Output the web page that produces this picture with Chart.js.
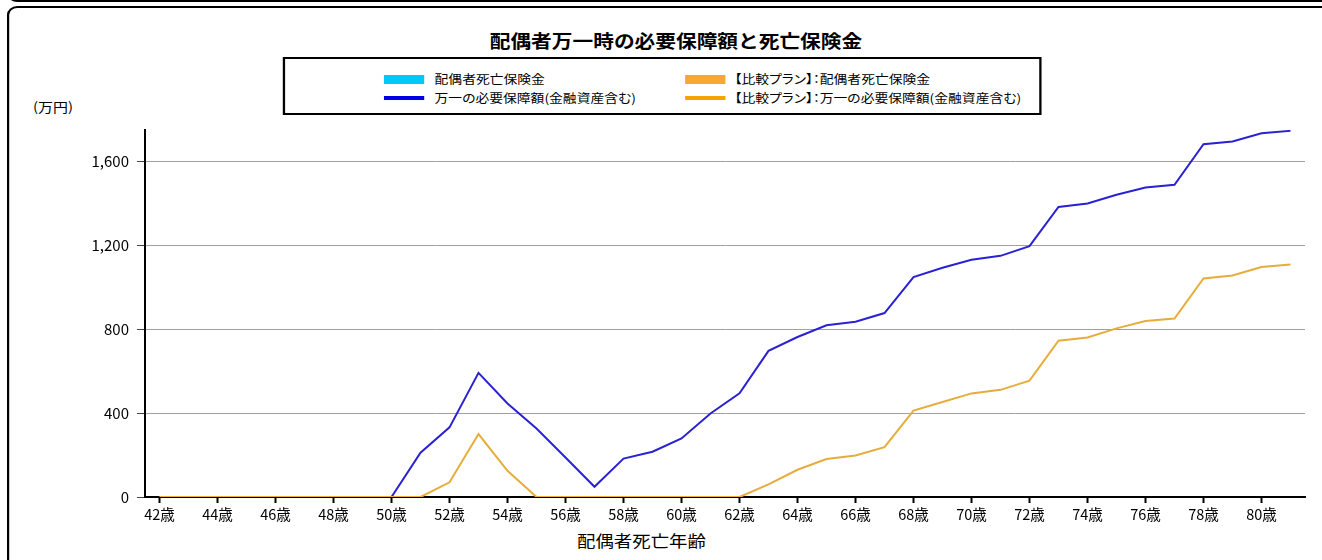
<!DOCTYPE html>
<html><head><meta charset="utf-8">
<script src="https://cdn.jsdelivr.net/npm/chart.js@4.4.1/dist/chart.umd.min.js"></script>
<style>
html,body{margin:0;padding:0;background:#fff;overflow:hidden;width:1322px;height:560px;}
#wrap{position:absolute;left:0;top:0;width:1150px;height:560px;overflow:hidden;transform:scaleX(1.1496);transform-origin:0 0;font-family:"Noto Sans CJK JP","Noto Sans",sans-serif;color:#000;}
.ftop{position:absolute;left:6px;top:-38px;width:1400px;height:40px;border-left:2.4px solid #000;border-bottom:2.4px solid #000;border-bottom-left-radius:9px;box-sizing:border-box;}
.fmain{position:absolute;left:6px;top:6px;width:1400px;height:700px;border-left:2.5px solid #000;border-top:2.5px solid #000;border-top-left-radius:9px;box-sizing:border-box;}
.title{position:absolute;left:0;width:1176px;top:29px;line-height:22px;text-align:center;font-size:18px;font-weight:bold;color:#000;}
.lbox{position:absolute;left:246px;top:57px;width:660px;height:58px;border:2px solid #000;box-sizing:border-box;}
.mk{position:absolute;width:35px;}
.lt{position:absolute;font-size:12px;line-height:16px;white-space:nowrap;font-feature-settings:"palt";}
.unit{position:absolute;left:28.7px;top:99px;font-size:13px;line-height:16px;}
.xt{position:absolute;left:458px;width:200px;text-align:center;top:530px;font-size:16px;line-height:20px;}
#c{position:absolute;left:0;top:0;}
</style></head>
<body>
<div id="wrap">
  <div class="ftop"></div>
  <div class="fmain"></div>
  <div class="title">配偶者万一時の必要保障額と死亡保険金</div>
  <div class="lbox"></div>
  <div id="legend"></div>
  <div class="unit">(万円)</div>
  <div class="xt">配偶者死亡年齢</div>
</div>
<canvas id="c" width="1322" height="560" style="width:1322px;height:560px"></canvas>
<script>
const ages = ['42歳','43歳','44歳','45歳','46歳','47歳','48歳','49歳','50歳','51歳','52歳','53歳','54歳','55歳','56歳','57歳','58歳','59歳','60歳','61歳','62歳','63歳','64歳','65歳','66歳','67歳','68歳','69歳','70歳','71歳','72歳','73歳','74歳','75歳','76歳','77歳','78歳','79歳','80歳','81歳'];
const insurance = [0,0,0,0,0,0,0,0,0,0,0,0,0,0,0,0,0,0,0,0,0,0,0,0,0,0,0,0,0,0,0,0,0,0,0,0,0,0,0,0];
const compareInsurance = [0,0,0,0,0,0,0,0,0,0,0,0,0,0,0,0,0,0,0,0,0,0,0,0,0,0,0,0,0,0,0,0,0,0,0,0,0,0,0,0];
const required = [0,0,0,0,0,0,0,0,0,211,332,592,446,327,188,49,183,216,279,398,494,697,763,819,836,877,1049,1093,1131,1150,1196,1383,1400,1441,1476,1489,1682,1695,1734,1746];
const compareRequired = [0,0,0,0,0,0,0,0,0,0,70,300,125,0,0,0,0,0,0,0,0,60,130,181,198,238,412,453,494,511,555,745,761,804,839,851,1042,1056,1097,1109];
const yTicks = [0,400,800,1200,1600];
const seriesNames = ['配偶者死亡保険金','万一の必要保障額(金融資産含む)','【比較プラン】：配偶者死亡保険金','【比較プラン】：万一の必要保障額(金融資産含む)'];

// HTML legend (2 columns)
const legendItems = [
  {name: seriesNames[0], color:'#00c8f8', kind:'bar', x:334, tx:378, y:79},
  {name: seriesNames[1], color:'#0000e0', kind:'line', x:334, tx:378, y:98},
  {name: seriesNames[2], color:'#f8a830', kind:'bar', x:595.6, tx:639, y:79},
  {name: seriesNames[3], color:'#f5a300', kind:'line', x:595.6, tx:639, y:98}
];
const lg = document.getElementById('legend');
legendItems.forEach(it => {
  const m = document.createElement('div');
  m.className = 'mk';
  const h = it.kind === 'bar' ? 9 : 4;
  m.style.left = it.x + 'px';
  m.style.top = (it.y - h/2) + 'px';
  m.style.height = h + 'px';
  m.style.background = it.color;
  lg.appendChild(m);
  const t = document.createElement('div');
  t.className = 'lt';
  t.style.left = it.tx + 'px';
  t.style.top = (it.y - 8) + 'px';
  t.textContent = it.name;
  lg.appendChild(t);
});

new Chart(document.getElementById('c'), {
  type: 'line',
  data: {
    labels: ages,
    datasets: [
      {type:'bar', label: seriesNames[0], data: insurance, backgroundColor:'#00c8f8', borderWidth:0, order:3},
      {type:'bar', label: seriesNames[2], data: compareInsurance, backgroundColor:'#f8a830', borderWidth:0, order:2},
      {label: seriesNames[1], data: required, borderColor:'#2a22d2', backgroundColor:'#2a22d2', borderWidth:2, pointRadius:0, tension:0, order:1},
      {label: seriesNames[3], data: compareRequired, borderColor:'#e6ad3c', backgroundColor:'#e6ad3c', borderWidth:2, pointRadius:0, tension:0, order:0}
    ]
  },
  options: {
    responsive:false, animation:false, devicePixelRatio:1,
    layout:{padding:{left:0, top:130, right:17, bottom:0}},
    plugins:{legend:{display:false}, title:{display:false}, tooltip:{enabled:false}},
    scales:{
      x:{
        offset:true,
        afterFit: s => { s.height = 63; },
        border:{display:true, color:'#000', width:2},
        grid:{display:true, offset:false, drawOnChartArea:false, drawTicks:true, tickLength:6, tickWidth:2,
              tickColor: ctx => (ctx.index % 2 === 0 ? '#000' : 'rgba(0,0,0,0)')},
        ticks:{autoSkip:false, maxRotation:0, minRotation:0, padding:3, color:'#000',
               font:{family:'"Noto Sans CJK JP", sans-serif', size:14.5},
               callback: (v, i) => (i % 2 === 0 ? ages[i] : '')}
      },
      y:{
        min:0, max:1750,
        afterFit: s => { s.width = 145; },
        afterBuildTicks: s => { s.ticks = yTicks.map(v => ({value:v})); },
        border:{display:true, color:'#000', width:2},
        grid:{color: ctx => (ctx.tick && ctx.tick.value === 0 ? 'rgba(0,0,0,0)' : '#a0a0a0'), lineWidth:1,
              tickColor:'#444', tickLength:8, drawTicks:true},
        ticks:{padding:8, color:'#000', font:{family:'"Noto Sans CJK JP", sans-serif', size:15},
               callback: v => v.toLocaleString('en-US')}
      }
    }
  }
});
</script>
</body></html>
